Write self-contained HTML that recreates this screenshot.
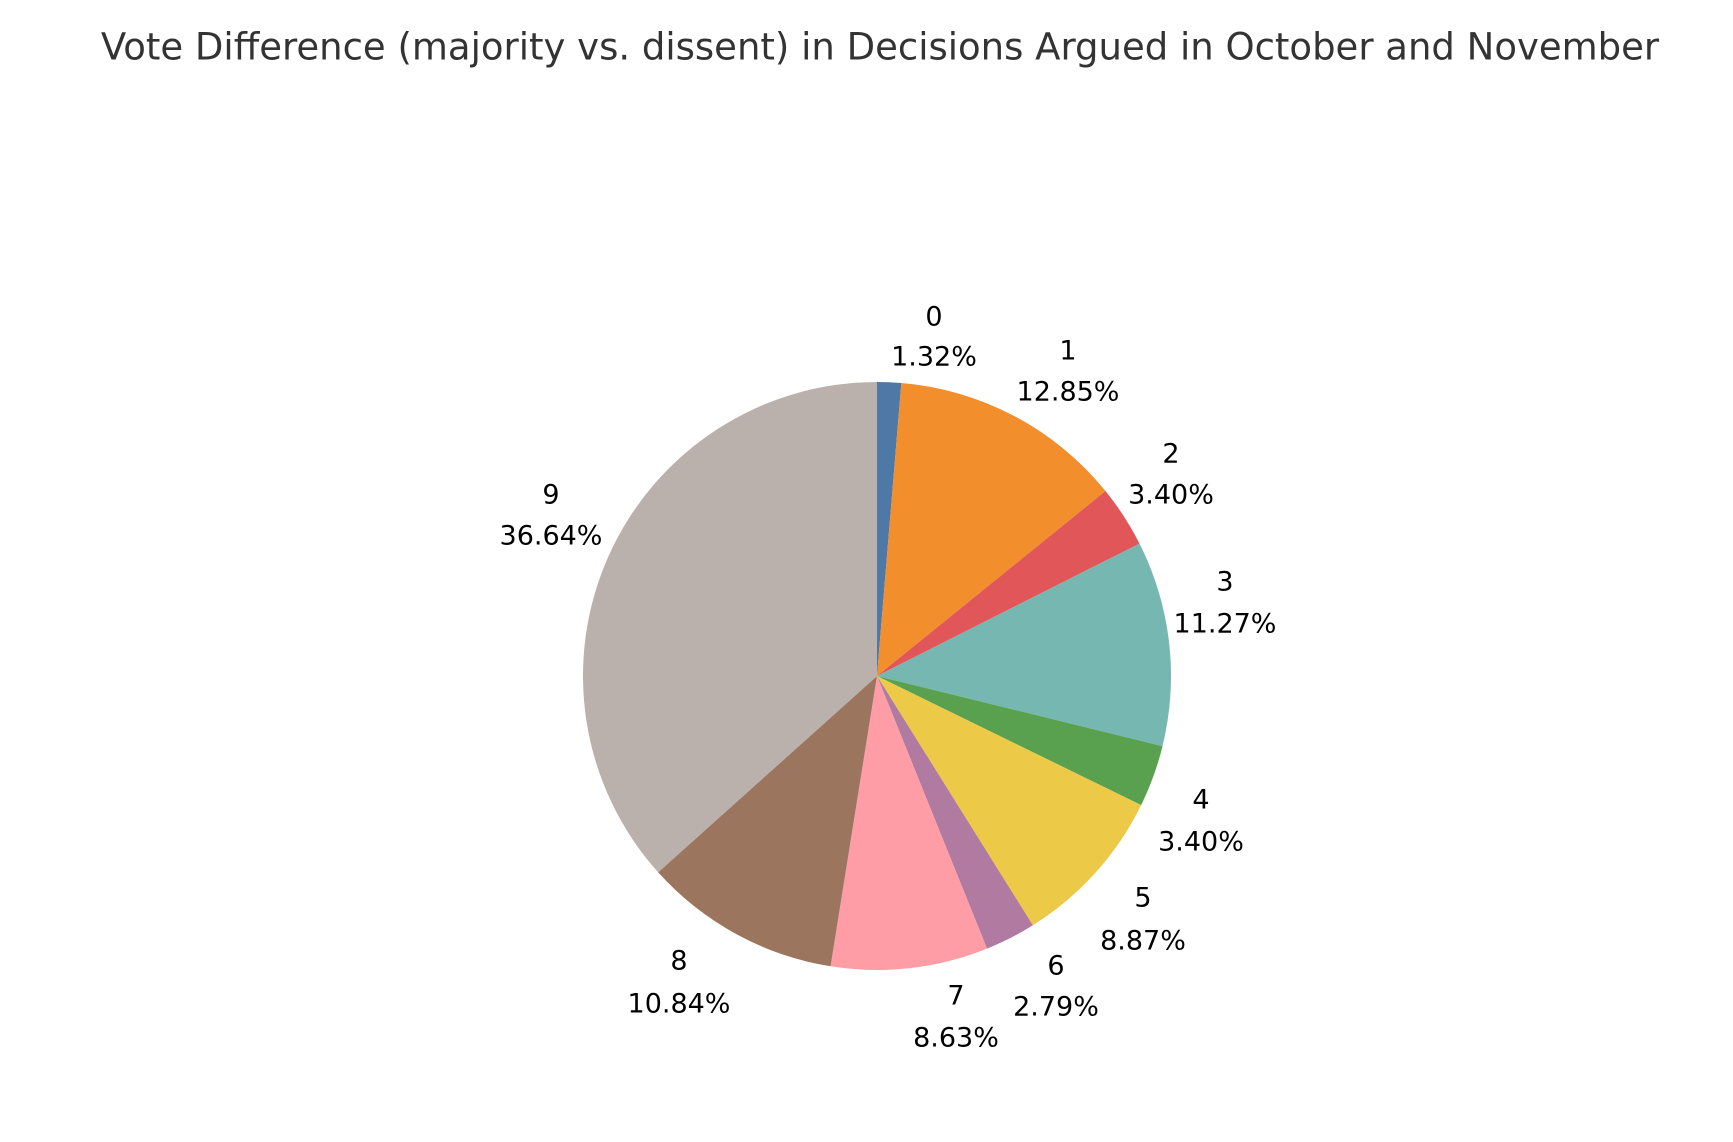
<!DOCTYPE html>
<html><head><meta charset="utf-8"><style>
html,body{margin:0;padding:0;background:#fff;}
svg{display:block;}
text{font-family:"DejaVu Sans","Liberation Sans",sans-serif;}
</style></head><body>
<svg id="s" width="1733" height="1142" viewBox="0 0 1733 1142" xmlns="http://www.w3.org/2000/svg">
<text x="880" y="47" text-anchor="middle" dominant-baseline="central" font-size="37" fill="#333">Vote Difference (majority vs. dissent) in Decisions Argued in October and November</text>
<g id="pie"></g>
<g font-size="27" fill="#000" text-anchor="middle" dominant-baseline="central">
<text x="934" y="317">0</text><text x="934" y="357">1.32%</text>
<text x="1068" y="351">1</text><text x="1068" y="392">12.85%</text>
<text x="1171" y="454">2</text><text x="1171" y="495">3.40%</text>
<text x="1225" y="582">3</text><text x="1225" y="624">11.27%</text>
<text x="1201" y="800">4</text><text x="1201" y="842">3.40%</text>
<text x="1143" y="898">5</text><text x="1143" y="941">8.87%</text>
<text x="1056" y="966">6</text><text x="1056" y="1007">2.79%</text>
<text x="956" y="996">7</text><text x="956" y="1038">8.63%</text>
<text x="679" y="961">8</text><text x="679" y="1004">10.84%</text>
<text x="551" y="495">9</text><text x="551" y="536">36.64%</text>
</g>
</svg>
<script>
var v=[1.32,12.85,3.40,11.27,3.40,8.87,2.79,8.63,10.84,36.64];
var c=["#4e79a7","#f28e2b","#e15759","#76b7b2","#59a14f","#edc948","#b07aa1","#ff9da7","#9c755f","#bab0ac"];
var cx=877,cy=676,r=294,tot=v.reduce(function(a,b){return a+b},0),a=0,h="";
for(var i=0;i<v.length;i++){
var a0=a/tot*2*Math.PI;a+=v[i];var a1=a/tot*2*Math.PI;
var x0=cx+r*Math.sin(a0),y0=cy-r*Math.cos(a0),x1=cx+r*Math.sin(a1),y1=cy-r*Math.cos(a1);
var lg=(a1-a0)>Math.PI?1:0;
h+='<path d="M'+cx+','+cy+' L'+x0+','+y0+' A'+r+','+r+' 0 '+lg+' 1 '+x1+','+y1+' Z" fill="'+c[i]+'"/>';
}
document.getElementById("pie").innerHTML=h;
</script>
</body></html>
